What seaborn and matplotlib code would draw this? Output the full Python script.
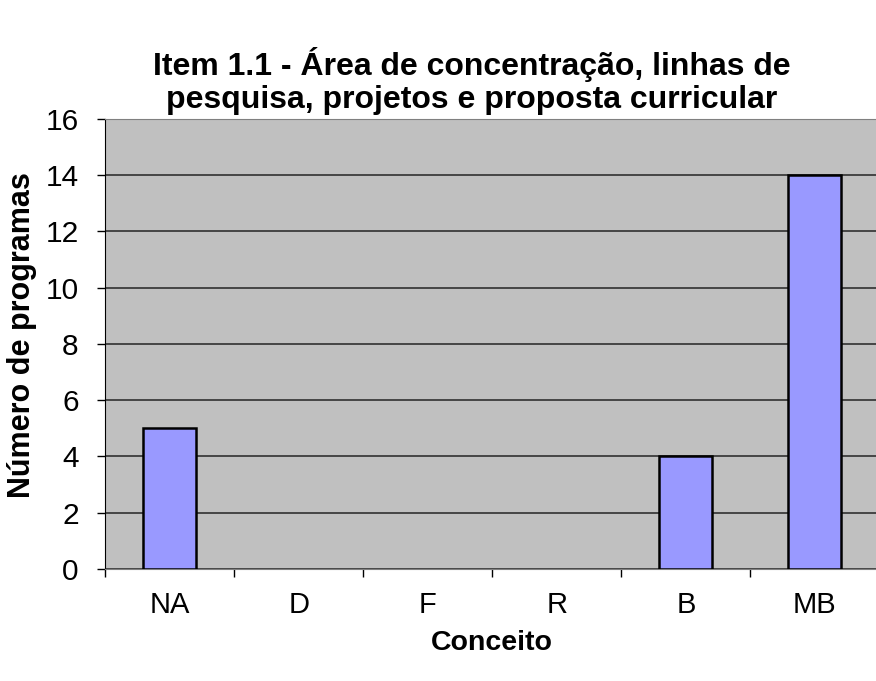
import matplotlib
matplotlib.use("Agg")
import matplotlib.pyplot as plt
import seaborn as sns
import pandas as pd

conceitos = ["NA", "D", "F", "R", "B", "MB"]
programas = [5, 0, 0, 0, 4, 14]

df = pd.DataFrame({"Conceito": conceitos, "Programas": programas})

sns.set_style("white")
plt.rcParams["font.family"] = ["Liberation Sans", "DejaVu Sans"]
plt.rcParams["text.color"] = "black"
plt.rcParams["axes.labelcolor"] = "black"
plt.rcParams["xtick.color"] = "black"
plt.rcParams["ytick.color"] = "black"

fig = plt.figure(figsize=(8.76, 6.81), dpi=100)
ax = fig.add_axes([0.1199, 0.1645, 0.884, 0.661])

sns.barplot(data=df, x="Conceito", y="Programas", color="#9999FF",
            saturation=1, width=0.41, edgecolor="black", linewidth=1.8, ax=ax, zorder=3)

# barras de altura zero não aparecem no original
for p in ax.patches:
    if p.get_height() == 0:
        p.set_visible(False)

ax.set_facecolor("#C0C0C0")
ax.set_ylim(0, 16)
ax.set_xlim(-0.5, 5.5)
ax.set_yticks(range(0, 17, 2))
ax.yaxis.grid(True, color="#303030", linewidth=1.2, zorder=0)
ax.set_axisbelow(True)

ax.set_xticks([i + 0.5 for i in range(-1, 6)], minor=False)
ax.set_xticklabels([])
ax.set_xticks(range(6), minor=True)
ax.set_xticklabels(conceitos, minor=True, fontsize=21)
ax.tick_params(axis="x", which="major", direction="out", length=6, width=1, color="black", bottom=True)
ax.tick_params(axis="x", which="minor", length=0, pad=16)
ax.tick_params(axis="y", direction="out", length=6, width=1, color="black", left=True, labelsize=21.5, pad=13)

ax.spines["right"].set_visible(False)
ax.spines["top"].set_color("#808080")
ax.spines["left"].set_color("black")
ax.spines["bottom"].set_color("#808080")

ax.set_xlabel("Conceito", fontsize=20.5, fontweight="bold", labelpad=8)
ax.set_ylabel("Número de programas", fontsize=22, fontweight="bold")
ax.yaxis.set_label_coords(-0.088, 0.52)
ax.set_title("Item 1.1 - Área de concentração, linhas de\npesquisa, projetos e proposta curricular",
             fontsize=23, fontweight="bold", pad=8, x=0.474, linespacing=1.1)

fig.savefig("out.png", dpi=100)
